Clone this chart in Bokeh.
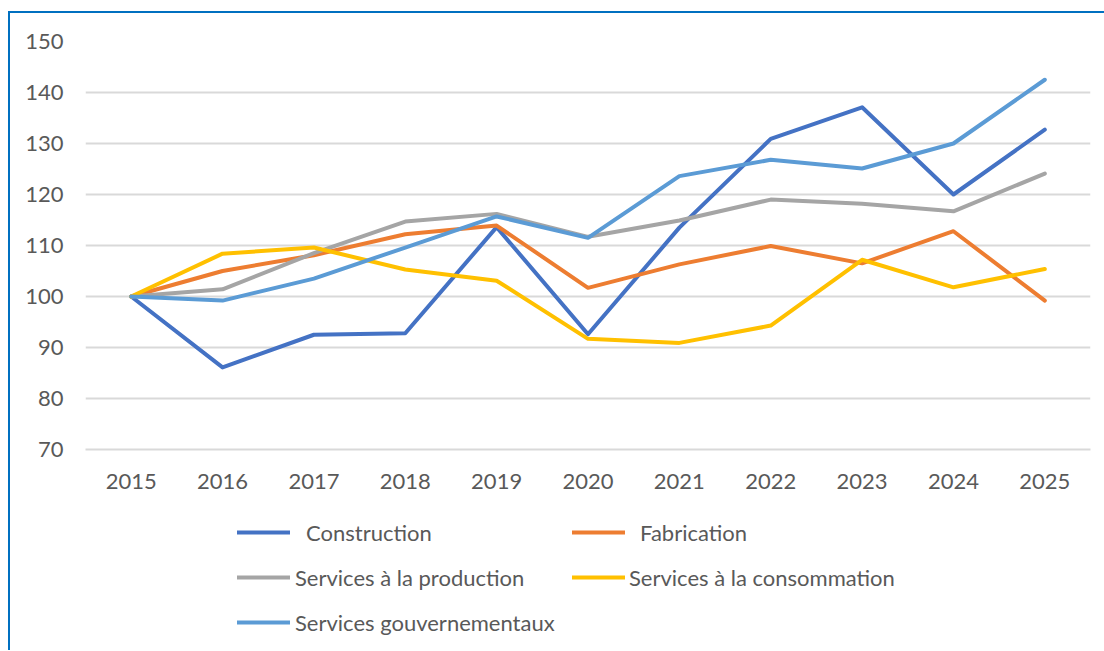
from bokeh.plotting import figure
from bokeh.layouts import column
from bokeh.models import Range1d, FactorRange, FixedTicker, Legend, LegendItem
from bokeh.embed import file_html
from bokeh.resources import INLINE

years = ["2015", "2016", "2017", "2018", "2019", "2020", "2021", "2022", "2023", "2024", "2025"]
construction = [100, 86.1, 92.5, 92.8, 113.6, 92.6, 113.5, 130.9, 137.1, 120.0, 132.7]
fabrication = [100, 105.0, 108.1, 112.2, 113.9, 101.7, 106.3, 109.9, 106.5, 112.8, 99.2]
production = [100, 101.4, 108.5, 114.7, 116.2, 111.7, 114.9, 119.0, 118.2, 116.7, 124.1]
consommation = [100, 108.4, 109.6, 105.3, 103.1, 91.7, 90.9, 94.3, 107.2, 101.8, 105.4]
gouvernement = [100, 99.2, 103.5, 109.6, 115.7, 111.5, 123.6, 126.8, 125.1, 130.0, 142.5]
y_ticks = [70, 80, 90, 100, 110, 120, 130, 140, 150]

series = [
    ("Construction", construction, "#4472C4"),
    ("Fabrication", fabrication, "#ED7D31"),
    ("Services à la production", production, "#A5A5A5"),
    ("Services à la consommation", consommation, "#FFC000"),
    ("Services gouvernementaux", gouvernement, "#5B9BD5"),
]
# legend placement: (x offset from plot frame, y offset from bottom, label standoff)
legend_slots = [(152, 100, 16), (487, 100, 15), (152, 55, 5), (487, 55, 4), (152, 10, 5)]

FONT = "Lato"
TXT = "#595959"
GRID = "#D9D9D9"
W = 1094

p = figure(
    width=W, height=500,
    x_range=FactorRange(*years, range_padding=0),
    y_range=Range1d(y_ticks[0], y_ticks[-1]),
    output_backend="svg", toolbar_location=None,
    min_border_left=75, min_border_right=14, min_border_top=28, min_border_bottom=64,
)
p.outline_line_color = None
p.background_fill_color = "white"
p.border_fill_color = "white"

p.yaxis.ticker = FixedTicker(ticks=y_ticks)
p.yaxis.axis_line_color = None
p.yaxis.major_tick_line_color = None
p.yaxis.major_tick_out = 0
p.yaxis.minor_tick_line_color = None
p.yaxis.major_label_standoff = 22
p.xaxis.axis_line_color = GRID
p.xaxis.axis_line_width = 2
p.xaxis.major_tick_line_color = None
p.xaxis.major_tick_out = 0
p.xaxis.major_label_standoff = 24
for ax in (p.xaxis, p.yaxis):
    ax.major_label_text_font = FONT
    ax.major_label_text_font_size = "22px"
    ax.major_label_text_color = TXT

p.xgrid.grid_line_color = None
p.ygrid.grid_line_color = GRID
p.ygrid.grid_line_width = 2

for name, vals, col in series:
    p.line(years, vals, line_color=col, line_width=4, line_cap="round", line_join="round")

# legend panel (its ranges keep the series out of view; only legend glyphs show)
lg = figure(
    width=W, height=137, x_axis_type=None, y_axis_type=None,
    output_backend="svg", toolbar_location=None,
    min_border=0, x_range=FactorRange(*years), y_range=Range1d(0, 1),
)
lg.outline_line_color = None
lg.grid.visible = False
for (name, vals, col), (vx, vy, so) in zip(series, legend_slots):
    r = lg.line(years, vals, line_color=col, line_width=4, line_cap="round")
    legend = Legend(
        items=[LegendItem(label=name, renderers=[r])], location=(vx, vy),
        glyph_width=53, glyph_height=36, label_height=36, label_standoff=so,
        padding=0, margin=0, border_line_color=None, background_fill_alpha=0,
        label_text_font=FONT, label_text_font_size="22px", label_text_color=TXT,
    )
    lg.add_layout(legend, "center")

layout = column(p, lg, spacing=0)
layout.margin = (11, 0, 0, 8)
layout.styles = {"border-left": "2px solid #0070C0", "border-top": "2px solid #0070C0"}

open("out.html", "w").write(file_html(layout, INLINE))
